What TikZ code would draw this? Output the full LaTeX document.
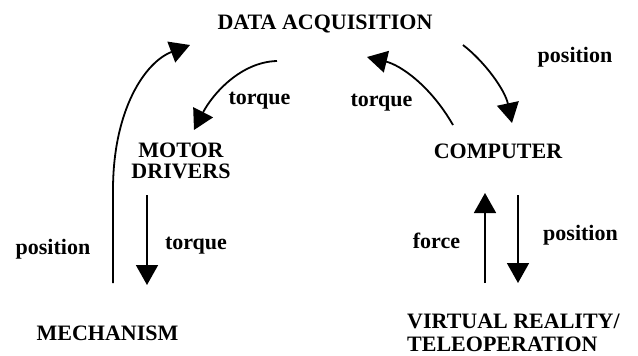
\documentclass[tikz,border=0pt]{standalone}
\usepackage{fontspec}
\setmainfont{Liberation Serif}
\usetikzlibrary{arrows.meta}
\begin{document}
\begin{tikzpicture}[x=1pt,y=-1pt,
  lbl/.style={inner sep=0pt,anchor=base,font=\fontsize{22}{21}\selectfont\bfseries},
  conn/.style={line width=1.8pt,-{Triangle[length=20pt,width=22pt]}}]
\useasboundingbox (0,0) rectangle (638,356);
% labels / blocks
\node[lbl] (daq) at (325,30) {DATA ACQUISITION};
\node[lbl,align=center] (motor) at (181,178) {MOTOR\\DRIVERS};
\node[lbl] (comp) at (498,158) {COMPUTER};
\node[lbl] (mech) at (107.5,340) {MECHANISM};
\node[lbl,anchor=base west,align=left,font=\fontsize{22}{23}\selectfont\bfseries] (vr) at (407,351) {VIRTUAL REALITY/\\TELEOPERATION};
% connector labels
\node[lbl] (tq1) at (259.5,104) {torque};
\node[lbl] (tq2) at (381.5,106) {torque};
\node[lbl] (pos1) at (575,62) {position};
\node[lbl] (pos2) at (53,254) {position};
\node[lbl] (tq3) at (196,249) {torque};
\node[lbl] (frc) at (436.5,248) {force};
\node[lbl] (pos3) at (580.5,240) {position};
% connector end points
\coordinate (m1) at (113,283);
\coordinate (m2) at (113,190);
\coordinate (d1) at (190,45);
\coordinate (d2) at (277,61);
\coordinate (md1) at (194,130);
\coordinate (c1) at (453,125);
\coordinate (d3) at (367,57);
\coordinate (d4) at (463,45);
\coordinate (c2) at (512,123);
\coordinate (md2) at (147,195);
\coordinate (m3) at (147,285);
\coordinate (v1) at (485,283);
\coordinate (c3) at (485,193);
\coordinate (c4) at (518,195);
\coordinate (v2) at (518,283);
% connectors
\draw[conn] (m1) -- (m2) .. controls (113,110) and (145,62) .. (d1);
\draw[conn] (d2) .. controls (240,62) and (212,95) .. (md1);
\draw[conn] (c1) .. controls (430,85) and (400,65) .. (d3);
\draw[conn] (d4) .. controls (485,62) and (505,90) .. (c2);
\draw[conn] (md2) -- (m3);
\draw[conn] (v1) -- (c3);
\draw[conn] (c4) -- (v2);
\end{tikzpicture}
\end{document}
